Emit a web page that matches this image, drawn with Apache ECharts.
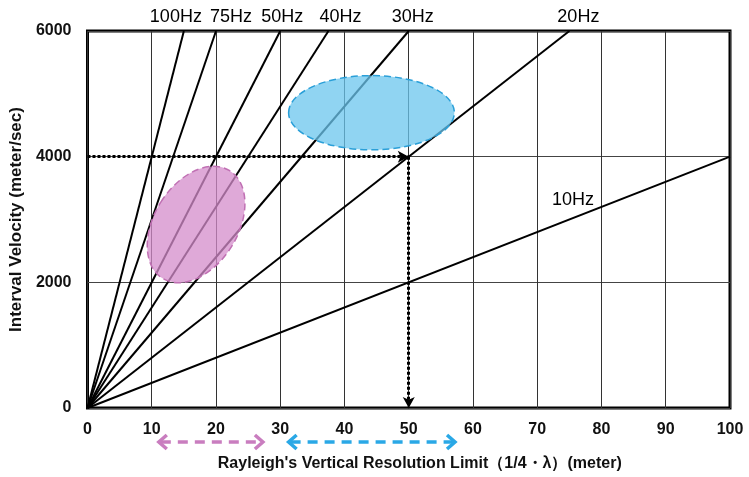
<!DOCTYPE html>
<html>
<head>
<meta charset="utf-8">
<script src="https://cdn.jsdelivr.net/npm/echarts@6/dist/echarts.min.js"></script>
<style>
  html, body { margin: 0; padding: 0; background: #fff; }
  #chart { width: 749px; height: 477px; }
</style>
</head>
<body>
<div id="chart"></div>
<script>
// frequency lines: each runs from the origin to its end point
const freqs = ['100Hz', '75Hz', '50Hz', '40Hz', '30Hz', '20Hz', '10Hz'];
const endX = [15, 20, 30, 37.5, 50, 75, 100];
const endY = [6000, 6000, 6000, 6000, 6000, 6000, 4000];
const labelShift = [[-8, 0], [15, 0], [2, 0], [12, 0], [4, 0], [9, 0], [-157, 57]];

const xTicks = [0, 10, 20, 30, 40, 50, 60, 70, 80, 90, 100];
const yTicks = [0, 2000, 4000, 6000];

// ellipses: [centerX, centerY, halfWidth (x units), halfHeight (y units), tilt deg]
const pinkZone = [16.9, 2920, 6.5, 1010, -32];
const blueZone = [44.2, 4700, 12.9, 590, 0];

// dotted guide path at 4000 m/s -> 50 m
const guideX = [0, 50, 50];
const guideY = [4000, 4000, 0];

// range arrows under the x axis [from, to]
const pinkRange = [11.1, 27.3];
const blueRange = [31.3, 57.2];

const FONT = 'Liberation Sans, Arial, sans-serif';

const chart = echarts.init(document.getElementById('chart'));

const lineSeries = freqs.map((name, i) => ({
  name: name,
  type: 'line',
  symbol: 'circle',
  symbolSize: 0,
  showSymbol: true,
  z: 3,
  lineStyle: { color: '#000', width: 2 },
  data: [
    [0, 0],
    {
      value: [endX[i], endY[i]],
      label: {
        show: true,
        position: 'top',
        distance: 5,
        offset: labelShift[i],
        formatter: name,
        color: '#000',
        fontSize: 18,
        fontFamily: FONT
      }
    }
  ],
  animation: false
}));

function ellipseItem(color, stroke) {
  return function (params, api) {
    const c = api.coord([api.value(0), api.value(1)]);
    const s = api.size([api.value(2), api.value(3)]);
    return {
      type: 'ellipse',
      x: c[0],
      y: c[1],
      rotation: api.value(4) * Math.PI / 180,
      shape: { cx: 0, cy: 0, rx: s[0], ry: s[1] },
      style: {
        fill: color,
        stroke: stroke,
        lineWidth: 1.5,
        lineDash: [7, 4]
      }
    };
  };
}

function rangeArrow(color) {
  return function (params, api) {
    const a = api.coord([api.value(0), 0]);
    const b = api.coord([api.value(1), 0]);
    const y = a[1] + 34;
    const h = 7, w = 8;
    const st = { stroke: color, lineWidth: 3.5, fill: 'none' };
    return {
      type: 'group',
      children: [
        { type: 'line', shape: { x1: a[0] + 2, y1: y, x2: b[0] - 2, y2: y },
          style: { stroke: color, lineWidth: 3.5, lineDash: [10, 7] } },
        { type: 'polyline', shape: { points: [[a[0] + w, y - h], [a[0], y], [a[0] + w, y + h]] }, style: st },
        { type: 'polyline', shape: { points: [[b[0] - w, y - h], [b[0], y], [b[0] - w, y + h]] }, style: st }
      ]
    };
  };
}

const option = {
  animation: false,
  backgroundColor: '#fff',
  grid: {
    left: 86, right: 19, top: 31, bottom: 68,
    show: true,
    borderColor: '#000',
    borderWidth: 3
  },
  xAxis: {
    type: 'value',
    min: xTicks[0],
    max: xTicks[xTicks.length - 1],
    interval: 10,
    name: "Rayleigh's Vertical Resolution Limit（1/4・λ）(meter)",
    nameLocation: 'middle',
    nameGap: 48,
    nameTextStyle: {
      color: '#111', fontSize: 16, fontWeight: 'bold', padding: [0, 0, 0, 22],
      fontFamily: FONT
    },
    axisLine: { show: false },
    axisTick: { show: false },
    axisLabel: {
      margin: 14, color: '#111', fontSize: 16, fontWeight: 'bold',
      fontFamily: FONT
    },
    splitLine: { show: true, lineStyle: { color: '#333', width: 1 } }
  },
  yAxis: {
    type: 'value',
    min: yTicks[0],
    max: yTicks[yTicks.length - 1],
    interval: 2000,
    name: 'Interval Velocity (meter/sec)',
    nameLocation: 'middle',
    nameGap: 62,
    nameTextStyle: {
      color: '#111', fontSize: 17, fontWeight: 'bold',
      fontFamily: FONT
    },
    axisLine: { show: false },
    axisTick: { show: false },
    axisLabel: {
      margin: 16, color: '#111', fontSize: 16, fontWeight: 'bold',
      fontFamily: FONT,
      formatter: v => String(v)
    },
    splitLine: { show: true, lineStyle: { color: '#444', width: 1 } }
  },
  series: lineSeries.concat([
    {
      name: 'guide',
      type: 'line',
      symbol: 'none',
      z: 4,
      lineStyle: { width: 0 },
      data: [],
      markLine: {
        silent: true,
        symbol: ['none', 'arrow'],
        symbolSize: [9, 11],
        label: { show: false },
        lineStyle: { color: '#000', width: 3, type: [3, 2] },
        data: [
          [{ coord: [guideX[0], guideY[0]] }, { coord: [guideX[1], guideY[1]] }],
          [{ coord: [guideX[1], guideY[1]] }, { coord: [guideX[2], guideY[2]] }]
        ]
      }
    },
    {
      type: 'custom',
      z: 5,
      renderItem: ellipseItem('rgba(212,140,203,0.75)', '#c070b3'),
      data: [pinkZone]
    },
    {
      type: 'custom',
      z: 5,
      renderItem: ellipseItem('rgba(107,197,237,0.75)', '#2a9fd8'),
      data: [blueZone]
    },
    {
      type: 'custom',
      clip: false,
      renderItem: rangeArrow('#c97dbf'),
      data: [pinkRange]
    },
    {
      type: 'custom',
      clip: false,
      renderItem: rangeArrow('#2aa8e6'),
      data: [blueRange]
    }
  ])
};

chart.setOption(option);
</script>
</body>
</html>
